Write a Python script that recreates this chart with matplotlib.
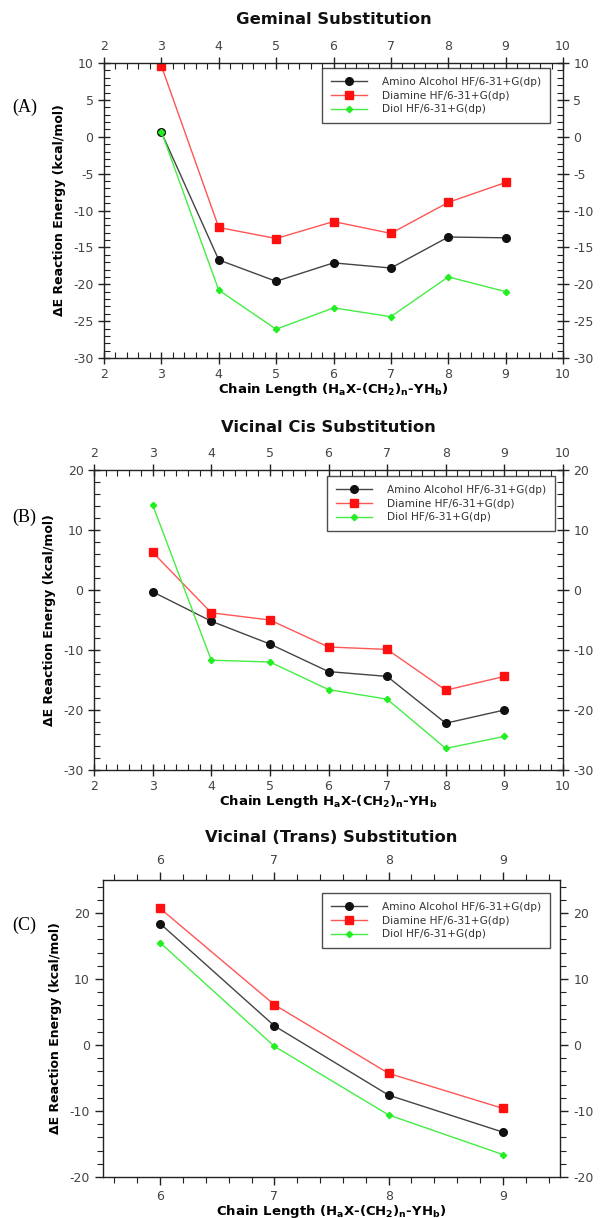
import matplotlib
matplotlib.use("Agg")
import matplotlib.pyplot as plt
from matplotlib.ticker import MultipleLocator

plt.rcParams['font.family'] = ['DejaVu Sans']
plt.rcParams['mathtext.default'] = 'bf'
plt.rcParams['axes.unicode_minus'] = False

# ---- data ----
x_ab = [3, 4, 5, 6, 7, 8, 9]
gem_amino = [0.6, -16.7, -19.6, -17.1, -17.8, -13.6, -13.7]
gem_diamine = [9.6, -12.3, -13.8, -11.5, -13.1, -8.9, -6.2]
gem_diol = [0.7, -20.8, -26.1, -23.2, -24.4, -19.0, -21.0]

cis_amino = [-0.3, -5.2, -9.0, -13.6, -14.4, -22.2, -20.0]
cis_diamine = [6.3, -3.8, -5.0, -9.5, -9.9, -16.7, -14.4]
cis_diol = [14.2, -11.7, -12.0, -16.6, -18.2, -26.4, -24.4]

x_c = [6, 7, 8, 9]
trans_amino = [18.4, 2.9, -7.6, -13.2]
trans_diamine = [20.7, 6.1, -4.3, -9.6]
trans_diol = [15.5, -0.2, -10.6, -16.6]

labels = ["Amino Alcohol HF/6-31+G(dp)", "Diamine HF/6-31+G(dp)", "Diol HF/6-31+G(dp)"]
titles = ["Geminal Substitution", "Vicinal Cis Substitution", "Vicinal (Trans) Substitution"]
xlabels = [r"Chain Length (H$_a$X-(CH$_2$)$_n$-YH$_b$)",
           r"Chain Length H$_a$X-(CH$_2$)$_n$-YH$_b$",
           r"Chain Length (H$_a$X-(CH$_2$)$_n$-YH$_b$)"]
ylabel = "\u0394E Reaction Energy (kcal/mol)"
panel_labels = ["(A)", "(B)", "(C)"]

W, H = 600, 1218
fig = plt.figure(figsize=(W / 100, H / 100), dpi=100)

def fx(px):
    return px / W

def fy(py):
    return 1 - py / H

colors = ['#111111', '#ff1010', '#22ee22']
lcolors = ['#444444', '#ff5555', '#44ee44']
mk = ['o', 's', 'D']
ms = [5.5, 5.5, 3.2]
tickcol = '#444444'

def make_panel(box, x, series, xlim, ylim, xmaj, xmin, ymaj, ymin, title, title_y,
               xlabel, plab, plab_y, leg_box, outward=False):
    l, r, t, b = box
    ax = fig.add_axes([fx(l), fy(b), fx(r - l), (b - t) / H])
    for i, s in enumerate(series):
        ax.plot(x, s, color=lcolors[i], lw=1.0, marker=mk[i], ms=ms[i],
                mfc=colors[i], mec=colors[i], label=labels[i])
    ax.set_xlim(*xlim)
    ax.set_ylim(*ylim)
    ax.xaxis.set_major_locator(MultipleLocator(xmaj))
    ax.xaxis.set_minor_locator(MultipleLocator(xmin))
    ax.yaxis.set_major_locator(MultipleLocator(ymaj))
    ax.yaxis.set_minor_locator(MultipleLocator(ymin))
    d_maj = 'out' if outward else 'inout'
    d_min = 'out' if outward else 'in'
    ax.tick_params(which='major', direction=d_maj, length=8 if not outward else 6,
                   width=1, top=True, right=True, labeltop=True, labelright=True,
                   labelsize=9, labelcolor=tickcol, color='#222222')
    ax.tick_params(which='minor', direction=d_min, length=4, width=0.8,
                   top=True, right=True, color='#222222')
    for sp in ax.spines.values():
        sp.set_linewidth(1.0)
        sp.set_color('#222222')
    ax.set_xlabel(xlabel, fontsize=9.5, fontweight='bold', labelpad=0)
    ax.set_ylabel(ylabel, fontsize=9, fontweight='bold', labelpad=5)
    fig.text(fx((l + r) / 2), fy(title_y), title, fontsize=11.8, fontweight='bold',
             ha='center', va='center', color='#111111')
    leg = ax.legend(loc='upper left', bbox_to_anchor=leg_box, fontsize=7.6,
                    frameon=True, fancybox=False, edgecolor='#222222',
                    borderpad=0.85, handlelength=3.4, labelspacing=0.35,
                    handletextpad=1.4, borderaxespad=0)
    leg.get_frame().set_linewidth(1.0)
    for txt in leg.get_texts():
        txt.set_color('#333333')
    fig.text(fx(12), fy(plab_y), plab, fontsize=13, family='Liberation Serif',
             va='center', ha='left')
    return ax

def leg_anchor(box, lx, ly):
    l, r, t, b = box
    return ((lx - l) / (r - l), (b - ly) / (b - t))

boxA = (104, 563, 63, 358)
make_panel(boxA, x_ab, [gem_amino, gem_diamine, gem_diol], (2, 10), (-30, 10),
           1, 0.2, 5, 1, titles[0], 20, xlabels[0], panel_labels[0], 107,
           leg_anchor(boxA, 322, 68))

boxB = (94, 563, 470, 770)
make_panel(boxB, x_ab, [cis_amino, cis_diamine, cis_diol], (2, 10), (-30, 20),
           1, 0.2, 10, 2, titles[1], 428, xlabels[1], panel_labels[1], 517,
           leg_anchor(boxB, 327, 476))

boxC = (103, 560, 880, 1177)
make_panel(boxC, x_c, [trans_amino, trans_diamine, trans_diol], (5.5, 9.5), (-20, 25),
           1, 0.2, 10, 2, titles[2], 838, xlabels[2], panel_labels[2], 925,
           leg_anchor(boxC, 322, 893), outward=True)

fig.savefig("out.png", dpi=100)
